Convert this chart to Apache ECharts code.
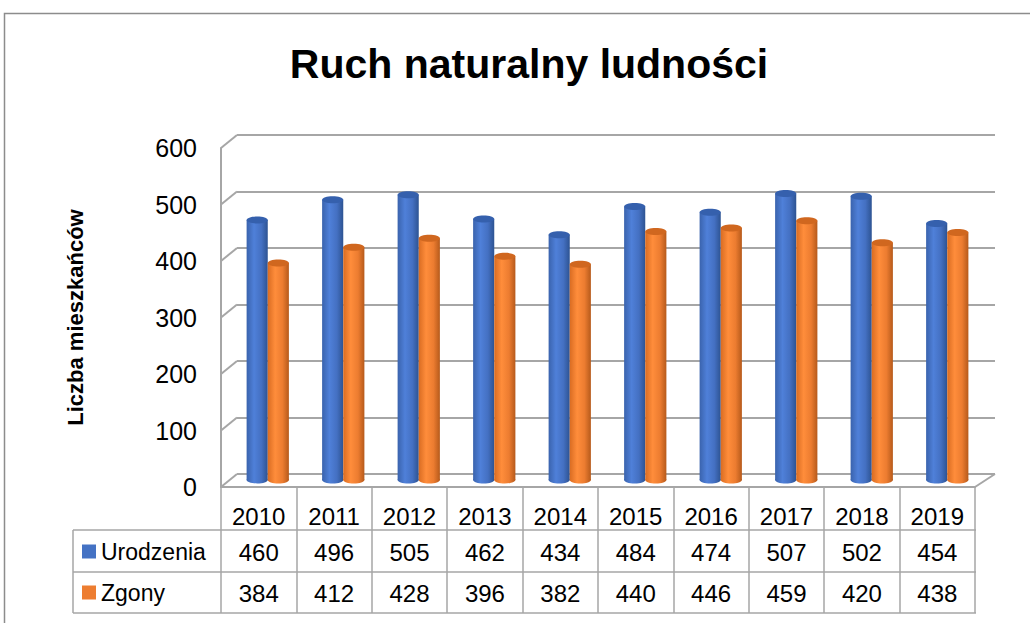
<!DOCTYPE html>
<html>
<head>
<meta charset="utf-8">
<script src="https://cdn.jsdelivr.net/npm/echarts@6/dist/echarts.min.js"></script>
<style>
  html, body { margin: 0; padding: 0; background: #fff; }
  #chart { width: 1030px; height: 623px; }
</style>
</head>
<body>
<div id="chart"></div>
<script>
var years = ['2010', '2011', '2012', '2013', '2014', '2015', '2016', '2017', '2018', '2019'];
var births = [460, 496, 505, 462, 434, 484, 474, 507, 502, 454];
var deaths = [384, 412, 428, 396, 382, 440, 446, 459, 420, 438];
var yTicks = [0, 100, 200, 300, 400, 500, 600];

(function() {
  var font = '"Liberation Sans", Arial, sans-serif';
  var rule = '#a6a6a6';
  var depthX = 16, depthY = -13;

  // cylinder drawn in the middle-depth grid
  function cylinder(name, values, side, stops, cap, base) {
    return {
      name: name, type: 'custom', xAxisIndex: 2, yAxisIndex: 2, z: 5,
      itemStyle: { color: base },
      data: values.map(function(v, i) { return [i, v]; }),
      encode: { x: 0, y: 1 },
      renderItem: function(params, api) {
        var top = api.coord([api.value(0), api.value(1)]);
        var bot = api.coord([api.value(0), 0]);
        var w = api.size([1, 0])[0] * 0.28;
        var x0 = side < 0 ? top[0] - w : top[0];
        var cx = x0 + w / 2;
        var grad = new echarts.graphic.LinearGradient(0, 0, 1, 0, stops);
        return { type: 'group', children: [
          { type: 'ellipse', shape: { cx: cx, cy: bot[1], rx: w / 2, ry: 3.5 }, style: { fill: grad } },
          { type: 'rect', shape: { x: x0, y: top[1], width: w, height: bot[1] - top[1] }, style: { fill: grad } },
          { type: 'ellipse', shape: { cx: cx, cy: top[1], rx: w / 2, ry: 3.5 }, style: { fill: cap } }
        ]};
      }
    };
  }

  var blueStops = [
    { offset: 0, color: '#3a63ad' }, { offset: 0.35, color: '#4f80d9' },
    { offset: 0.7, color: '#4470c2' }, { offset: 1, color: '#2d5392' }
  ];
  var orangeStops = [
    { offset: 0, color: '#d96c22' }, { offset: 0.35, color: '#ff8d3b' },
    { offset: 0.7, color: '#ec7c30' }, { offset: 1, color: '#b65a1b' }
  ];

  var chart = echarts.init(document.getElementById('chart'), null, { renderer: 'svg' });
  chart.setOption({
    animation: false,
    textStyle: { fontFamily: font },
    title: {
      text: 'Ruch naturalny ludności', left: 524, top: 38, textAlign: 'center',
      textStyle: { fontSize: 41, fontWeight: 'bold', color: '#000', fontFamily: font }
    },
    legend: {
      data: ['Urodzenia', 'Zgony'], orient: 'vertical', left: 82, top: 540,
      itemWidth: 14, itemHeight: 14, itemGap: 18, icon: 'rect', padding: 0,
      selectedMode: false,
      textStyle: { fontSize: 23, lineHeight: 23, color: '#000', fontFamily: font }
    },
    grid: [
      { left: 221, right: 55, top: 148, bottom: 136 },   // front plane
      { left: 237, right: 35, top: 135, bottom: 149 },   // back wall
      { left: 230, right: 45, top: 141, bottom: 143 }    // bars, mid depth
    ],
    xAxis: [
      { gridIndex: 0, type: 'category', data: years,
        axisLine: { lineStyle: { color: rule, width: 2 } },
        axisTick: { show: true, interval: 0, length: 126, lineStyle: { color: rule, width: 1.5 } },
        axisLabel: { interval: 0, margin: 13, color: '#000',
          formatter: function(v, i) {
            return '{y|' + v + '}\n{v|' + births[i] + '}\n{v|' + deaths[i] + '}';
          },
          rich: {
            y: { fontSize: 24, lineHeight: 32, color: '#000', fontFamily: font },
            v: { fontSize: 24, lineHeight: 41, color: '#000', fontFamily: font }
          } } },
      { gridIndex: 1, type: 'category', data: years, show: false },
      { gridIndex: 2, type: 'category', data: years, show: false }
    ],
    yAxis: [
      { gridIndex: 0, type: 'value', min: 0, max: 600, interval: 100,
        name: 'Liczba mieszkańców', nameLocation: 'middle', nameGap: 135, nameRotate: 90,
        nameTextStyle: { fontSize: 22, fontWeight: 'bold', color: '#000', fontFamily: font },
        axisLine: { show: true, lineStyle: { color: rule, width: 2 } },
        axisTick: { show: false }, splitLine: { show: false },
        axisLabel: { margin: 24, fontSize: 25, color: '#000', fontFamily: font } },
      { gridIndex: 1, type: 'value', min: 0, max: 600, interval: 100,
        axisLine: { show: false }, axisTick: { show: false }, axisLabel: { show: false },
        splitLine: { lineStyle: { color: rule, width: 2 } } },
      { gridIndex: 2, type: 'value', min: 0, max: 600, show: false }
    ],
    series: [
      { // side wall diagonals + floor corner
        type: 'custom', xAxisIndex: 0, yAxisIndex: 0, silent: true, z: 1,
        data: yTicks.map(function(t) { return [0, t]; }),
        encode: { x: 0, y: 1 },
        renderItem: function(params, api) {
          var cs = params.coordSys;
          var y = api.coord([0, api.value(1)])[1];
          var kids = [{ type: 'line', shape: { x1: cs.x, y1: y, x2: cs.x + depthX, y2: y + depthY },
            style: { stroke: rule, lineWidth: 2 } }];
          if (api.value(1) === 0) {
            kids.push({ type: 'line', shape: { x1: cs.x + cs.width, y1: y, x2: cs.x + cs.width + 20, y2: y + depthY },
              style: { stroke: rule, lineWidth: 2 } });
          }
          return { type: 'group', children: kids };
        }
      },
      cylinder('Urodzenia', births, -1, blueStops, '#3560ad', '#4472C4'),
      cylinder('Zgony', deaths, 1, orangeStops, '#d0671f', '#ED7D31')
    ],
    graphic: [
      { type: 'rect', shape: { x: 4.5, y: 13.5, width: 1100, height: 700 },
        style: { fill: 'none', stroke: '#8c8c8c', lineWidth: 1.5 }, silent: true },
      { type: 'line', shape: { x1: 73, y1: 530, x2: 976, y2: 530 }, style: { stroke: rule, lineWidth: 1.5 } },
      { type: 'line', shape: { x1: 73, y1: 572, x2: 976, y2: 572 }, style: { stroke: rule, lineWidth: 1.5 } },
      { type: 'line', shape: { x1: 73, y1: 613, x2: 976, y2: 613 }, style: { stroke: rule, lineWidth: 1.5 } },
      { type: 'line', shape: { x1: 73, y1: 530, x2: 73, y2: 613 }, style: { stroke: rule, lineWidth: 1.5 } }
    ]
  });
  window.addEventListener('resize', function() { chart.resize(); });
})();
</script>
</body>
</html>
